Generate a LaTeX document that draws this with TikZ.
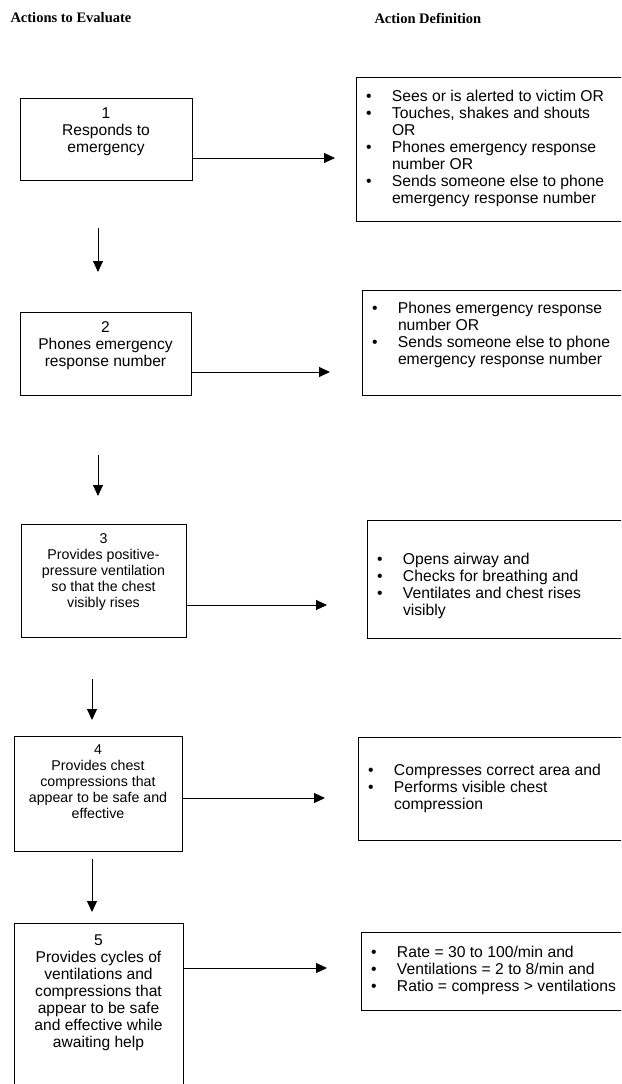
\documentclass[tikz,border=0pt]{standalone}
\usepackage{fontspec}
\setmainfont{Liberation Sans}
\newfontfamily\headfont{Liberation Serif}
\usetikzlibrary{arrows.meta,positioning}
\tikzset{
  stepbox/.style={draw,line width=1pt,inner sep=0pt},
  steptext/.style={inner sep=0pt,align=center,font=\fontsize{15.6}{17}\selectfont},
  smalltext/.style={inner sep=0pt,align=center,font=\fontsize{14.2}{16}\selectfont},
  defbox/.style={draw,line width=1pt,inner sep=0pt},
  deftext/.style={inner sep=0pt,font=\fontsize{15.7}{17}\selectfont},
  head/.style={inner sep=0pt,anchor=west,font=\headfont\bfseries\fontsize{14.5}{16}\selectfont}
}
\begin{document}
\begin{tikzpicture}[x=1pt,y=-1pt,>={Triangle[length=11pt,width=10pt]},line width=1pt]
\useasboundingbox (0,0) rectangle (621,1084);
\clip (0,0) rectangle (621,1084);

\node[head] (h1) at (10,18) {Actions to Evaluate};
\node[head] (h2) at (374,18) {Action Definition};

% actions
\node[stepbox,minimum width=172pt,minimum height=82pt] (b1) at (106,139) {};
\node[steptext,below=9.5pt of b1.north] (t1) {1\\Responds to\\emergency};
\node[stepbox,minimum width=171pt,minimum height=83pt] (b2) at (105.5,353.5) {};
\node[steptext,below=9.5pt of b2.north] (t2) {2\\Phones emergency\\response number};
\node[stepbox,minimum width=165pt,minimum height=113pt] (b3) at (103.5,580.5) {};
\node[smalltext,below=10pt of b3.north] (t3) {3\\Provides positive-\\pressure ventilation\\so that the chest\\visibly rises};
\node[stepbox,minimum width=168pt,minimum height=115pt] (b4) at (98,793.5) {};
\node[smalltext,below=9pt of b4.north] (t4) {4\\Provides chest\\compressions that\\appear to be safe and\\effective};
\node[stepbox,minimum width=169pt,minimum height=172pt] (b5) at (98.5,1009) {};
\node[steptext,below=11.5pt of b5.north] (t5) {5\\Provides cycles of\\ventilations and\\compressions that\\appear to be safe\\and effective while\\awaiting help};

% definitions
\node[defbox,minimum width=269pt,minimum height=144pt] (d1) at (490.5,149) {};
\node[deftext,right=10pt of d1.west] (u1) {\begin{tabular}{@{}p{26pt}@{}l@{}}
\textbullet & Sees or is alerted to victim OR\\
\textbullet & Touches, shakes and shouts\\
 & OR\\
\textbullet & Phones emergency response\\
 & number OR\\
\textbullet & Sends someone else to phone\\
 & emergency response number
\end{tabular}};
\node[defbox,minimum width=263pt,minimum height=105pt] (d2) at (493.5,342.5) {};
\node[deftext,right=10pt of d2.west,yshift=7pt] (u2) {\begin{tabular}{@{}p{26pt}@{}l@{}}
\textbullet & Phones emergency response\\
 & number OR\\
\textbullet & Sends someone else to phone\\
 & emergency response number
\end{tabular}};
\node[defbox,minimum width=258pt,minimum height=118pt] (d3) at (496,579) {};
\node[deftext,right=10pt of d3.west,yshift=-8pt] (u3) {\begin{tabular}{@{}p{26pt}@{}l@{}}
\textbullet & Opens airway and\\
\textbullet & Checks for breathing and\\
\textbullet & Ventilates and chest rises\\
 & visibly
\end{tabular}};
\node[defbox,minimum width=267pt,minimum height=103pt] (d4) at (491.5,788.5) {};
\node[deftext,right=10pt of d4.west,yshift=-1pt] (u4) {\begin{tabular}{@{}p{26pt}@{}l@{}}
\textbullet & Compresses correct area and\\
\textbullet & Performs visible chest\\
 & compression
\end{tabular}};
\node[defbox,minimum width=264pt,minimum height=78pt] (d5) at (493,971) {};
\node[deftext,right=10pt of d5.west] (u5) {\begin{tabular}{@{}p{26pt}@{}l@{}}
\textbullet & Rate = 30 to 100/min and\\
\textbullet & Ventilations = 2 to 8/min and\\
\textbullet & Ratio = compress > ventilations
\end{tabular}};

% arrows to definitions
\coordinate (e1) at (335,158);
\coordinate (e2) at (330,372);
\coordinate (e3) at (327,605);
\coordinate (e4) at (325,798);
\coordinate (e5) at (327,968);
\draw[->] (b1.east |- e1) -- (e1);
\draw[->] (b2.east |- e2) -- (e2);
\draw[->] (b3.east |- e3) -- (e3);
\draw[->] (b4.east |- e4) -- (e4);
\draw[->] (b5.east |- e5) -- (e5);

% arrows down
\coordinate (s1) at (98,228);
\coordinate (f1) at (98,272);
\coordinate (s2) at (98,455);
\coordinate (f2) at (98,496);
\coordinate (s3) at (92,679);
\coordinate (f3) at (92,720);
\coordinate (s4) at (92,859);
\coordinate (f4) at (92,912);
\draw[->] (s1) -- (f1);
\draw[->] (s2) -- (f2);
\draw[->] (s3) -- (f3);
\draw[->] (s4) -- (f4);
\end{tikzpicture}
\end{document}
